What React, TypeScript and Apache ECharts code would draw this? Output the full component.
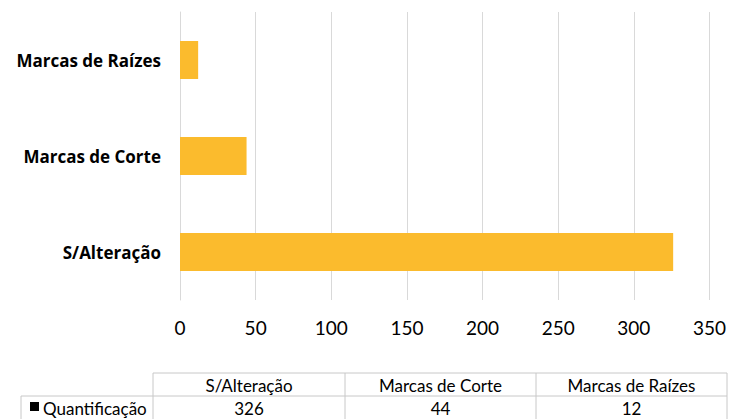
import React, { useEffect, useRef } from "react";
import * as echarts from "echarts";

const categories = ["S/Alteração", "Marcas de Corte", "Marcas de Raízes"];
const values = [326, 44, 12];
const seriesName = "Quantificação";
const xTicks = { min: 0, max: 350, interval: 50 };

const FONT = "Lato, 'Open Sans', sans-serif";
const BOLD_FONT = "'Open Sans', Lato, sans-serif";

export default function App() {
  const ref = useRef<HTMLDivElement>(null);
  useEffect(() => {
    if (!ref.current) return;
    const chart = echarts.init(ref.current, undefined, { renderer: "svg" });

    const colX = [153, 345, 536, 727];
    const rowY = [373, 396, 425];
    const lineStyle = { stroke: "#c8c8c8", lineWidth: 1 };
    const graphic: any[] = [];
    graphic.push({ type: "line", shape: { x1: colX[0], y1: rowY[0], x2: colX[3], y2: rowY[0] }, style: lineStyle, silent: true });
    graphic.push({ type: "line", shape: { x1: 21, y1: rowY[1], x2: colX[3], y2: rowY[1] }, style: lineStyle, silent: true });
    graphic.push({ type: "line", shape: { x1: 21, y1: rowY[1], x2: 21, y2: rowY[2] }, style: lineStyle, silent: true });
    colX.forEach((x) => {
      graphic.push({ type: "line", shape: { x1: x, y1: rowY[0], x2: x, y2: rowY[2] }, style: lineStyle, silent: true });
    });
    categories.forEach((c, i) => {
      const cx = (colX[i] + colX[i + 1]) / 2;
      graphic.push({
        type: "text", x: cx, y: (rowY[0] + rowY[1]) / 2 + 1,
        style: { text: c, font: `17px ${FONT}`, fill: "#000", align: "center", verticalAlign: "middle" },
      });
      graphic.push({
        type: "text", x: cx, y: 408,
        style: { text: String(values[i]), font: `17px ${FONT}`, fill: "#000", align: "center", verticalAlign: "middle" },
      });
    });
    graphic.push({ type: "rect", shape: { x: 30, y: 402, width: 9, height: 9 }, style: { fill: "#000" } });
    graphic.push({
      type: "text", x: 43, y: 408,
      style: { text: seriesName, font: `17px ${FONT}`, fill: "#000", align: "left", verticalAlign: "middle" },
    });

    chart.setOption({
      animation: false,
      grid: { left: 180, right: 14, top: 12, bottom: 119, containLabel: false },
      xAxis: {
        type: "value",
        min: xTicks.min,
        max: xTicks.max,
        interval: xTicks.interval,
        axisLine: { show: false },
        axisTick: { show: false },
        splitLine: { show: true, lineStyle: { color: "#d9d9d9", width: 1 } },
        axisLabel: { color: "#000", fontSize: 19, fontFamily: FONT, margin: 18 },
      },
      yAxis: {
        type: "category",
        data: categories,
        axisLine: { show: true, lineStyle: { color: "#d9d9d9", width: 1 } },
        axisTick: { show: false },
        axisLabel: { color: "#000", fontSize: 17, fontWeight: "bold", fontFamily: BOLD_FONT, margin: 19 },
      },
      series: [
        {
          name: seriesName,
          type: "bar",
          data: values,
          barWidth: 38,
          itemStyle: { color: "#FBBB2D" },
        },
      ],
      graphic,
    });
    return () => chart.dispose();
  }, []);
  return (
    <div
      ref={ref}
      style={{ position: "fixed", left: 0, top: 0, width: 729, height: 419, background: "#fff" }}
    />
  );
}
